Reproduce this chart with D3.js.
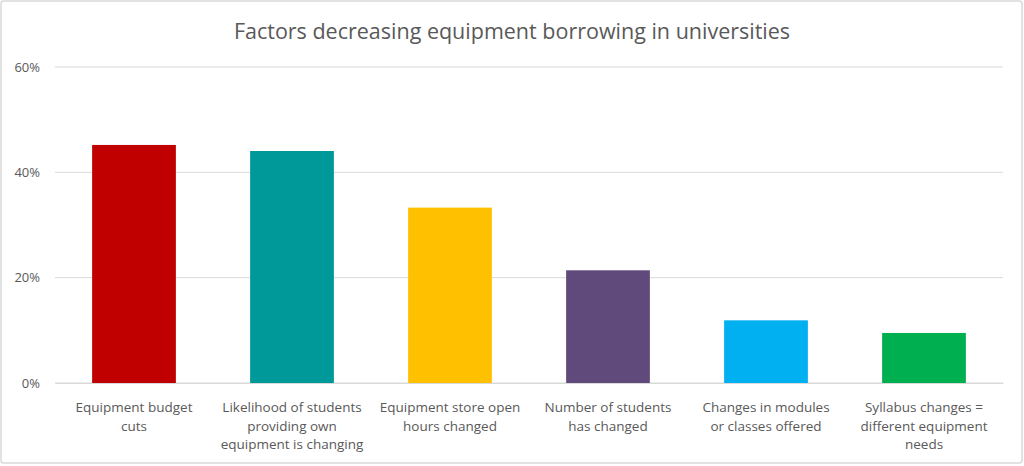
<!DOCTYPE html>
<html><head><meta charset="utf-8">
<script src="https://cdn.jsdelivr.net/npm/d3@7/dist/d3.min.js"></script>
<style>body{margin:0;background:#fff;}svg{display:block;}svg text{font-family:"Open Sans",Lato,sans-serif;}</style>
</head><body>
<svg id="c" width="1024" height="466"></svg>
<script>
const title = "Factors decreasing equipment borrowing in universities";
const categories = [
  "Equipment budget\ncuts",
  "Likelihood of students\nproviding own\nequipment is changing",
  "Equipment store open\nhours changed",
  "Number of students\nhas changed",
  "Changes in modules\nor classes offered",
  "Syllabus changes =\ndifferent equipment\nneeds"
];
const values = [0.452, 0.4405, 0.333, 0.214, 0.119, 0.095];
const colors = ["#C00000", "#009999", "#FFC000", "#604A7B", "#00B0F0", "#00B050"];
const yTicks = [0, 0.2, 0.4, 0.6];

const svg = d3.select("#c");
svg.append("rect").attr("x",1).attr("y",1).attr("width",1021).attr("height",462)
  .attr("rx",3).attr("fill","#fff").attr("stroke","#d9d9d9").attr("stroke-width",1.5);

const x = d3.scaleBand().domain(categories).range([55, 1003]).paddingInner(0.47).paddingOuter(0.235);
const y = d3.scaleLinear().domain([0, 0.6]).range([383, 67]);

const grid = svg.append("g");
grid.selectAll("line").data(yTicks).join("line")
  .attr("x1",55).attr("x2",1003).attr("y1",d=>y(d)).attr("y2",d=>y(d))
  .attr("stroke","#d9d9d9").attr("stroke-width",1);

const yAxis = svg.append("g").attr("transform","translate(55,0)")
  .call(d3.axisLeft(y).tickValues(yTicks).tickFormat(d3.format(".0%")).tickSize(0).tickPadding(15));
yAxis.select(".domain").remove();
yAxis.selectAll("text").attr("fill","#595959").style("font-size","13px");

svg.append("g").selectAll("rect").data(values).join("rect")
  .attr("x",(d,i)=>x(categories[i])).attr("width",x.bandwidth())
  .attr("y",d=>y(d)).attr("height",d=>y(0)-y(d))
  .attr("fill",(d,i)=>colors[i]);

const xAxis = svg.append("g").attr("transform","translate(0,383)")
  .call(d3.axisBottom(x).tickSize(0).tickFormat(""));
xAxis.select(".domain").attr("stroke","#d9d9d9");
xAxis.selectAll(".tick").each(function(d){
  const t = d3.select(this).append("text").attr("fill","#595959")
    .attr("text-anchor","middle").style("font-size","13.5px").attr("y",29);
  d.split("\n").forEach((line,i)=>{
    t.append("tspan").attr("x",0).attr("dy", i===0?0:18.5).text(line);
  });
});

svg.append("text").attr("x",512).attr("y",39).attr("text-anchor","middle")
  .attr("fill","#595959").style("font-size","21.5px").text(title);
</script>
</body></html>
